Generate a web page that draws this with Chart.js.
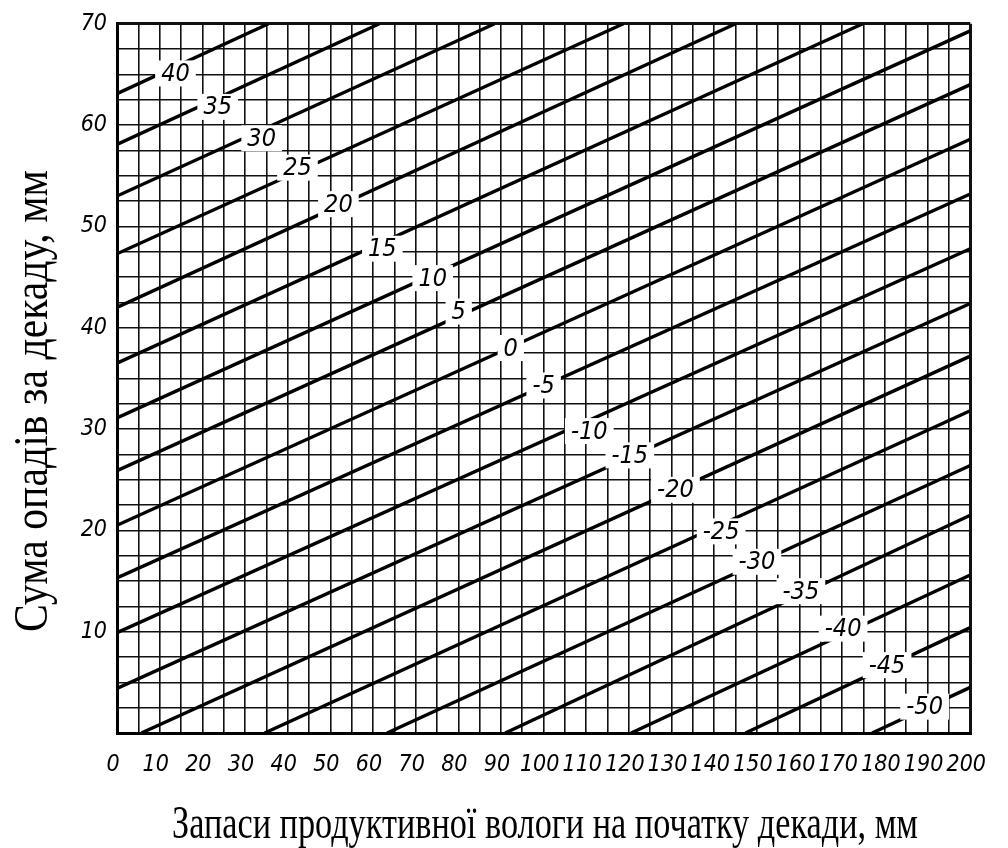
<!DOCTYPE html>
<html>
<head>
<meta charset="utf-8">
<script src="https://cdn.jsdelivr.net/npm/chart.js@4.4.1/dist/chart.umd.min.js"></script>
<style>
  html, body { margin: 0; padding: 0; background: #fff; }
  #wrap { width: 1008px; height: 848px; position: relative; }
</style>
</head>
<body>
<div id="wrap"><canvas id="c" width="1008" height="848"></canvas></div>
<script>
// ---- data ----
const lineLabels = ['40','35','30','25','20','15','10','5','0','-5','-10','-15','-20','-25','-30','-35','-40','-45','-50'];
const startX = [0, 0, 0, 0, 0, 0, 0, 0, 0, 0, 0, 0, 5.7, 34.6, 63.3, 91, 120.5, 147.3, 177];
const startY = [63.1, 58.1, 53.0, 47.3, 42.0, 36.5, 31.1, 25.9, 20.5, 15.3, 9.9, 4.4, 0, 0, 0, 0, 0, 0, 0];
const endX   = [35.5, 61.5, 88.5, 118.7, 145, 174.8, 200, 200, 200, 200, 200, 200, 200, 200, 200, 200, 200, 200, 200];
const endY   = [70, 70, 70, 70, 70, 70, 69.3, 64.0, 58.6, 53.2, 47.8, 42.4, 37.2, 31.8, 26.4, 21.5, 15.6, 10.4, 4.5];
const labelX = [13.7, 23.6, 33.9, 42.3, 51.9, 62.2, 74.0, 80.1, 92.3, 100.0, 110.7, 120.2, 130.9, 141.6, 150.0, 160.3, 170.2, 180.5, 189.3];
const labelY = [65.1, 61.8, 58.7, 55.8, 52.2, 47.8, 44.9, 41.6, 38.0, 34.3, 29.8, 27.4, 24.0, 19.9, 16.9, 14.0, 10.3, 6.7, 2.6];
const xTickLabels = ['0','10','20','30','40','50','60','70','80','90','100','110','120','130','140','150','160','170','180','190','200'];
const yTickLabels = ['','10','20','30','40','50','60','70'];
const xTitle = 'Запаси продуктивної вологи на початку декади, мм';
const yTitle = 'Сума опадів за декаду, мм';

const NARROW = "'Liberation Sans Narrow', 'DejaVu Sans Condensed', 'Arial Narrow', sans-serif";
const SERIF = "'Liberation Serif', 'Times New Roman', 'DejaVu Serif', serif";

const datasets = lineLabels.map((lab, i) => ({
  label: lab,
  data: [{x: startX[i], y: startY[i]}, {x: endX[i], y: endY[i]}],
  borderColor: '#000',
  borderWidth: 3.4,
  pointRadius: 0,
  fill: false,
  tension: 0
}));

const lineLabelPlugin = {
  id: 'lineLabels',
  afterDatasetsDraw(chart) {
    const ctx = chart.ctx;
    const xs = chart.scales.x, ys = chart.scales.y;
    ctx.save();
    ctx.font = 'italic 25px ' + NARROW;
    ctx.textAlign = 'center';
    ctx.textBaseline = 'middle';
    lineLabels.forEach((lab, i) => {
      const px = xs.getPixelForValue(labelX[i]);
      const py = ys.getPixelForValue(labelY[i]);
      const w = ctx.measureText(lab).width;
      ctx.fillStyle = '#fff';
      ctx.fillRect(px - w / 2 - 6, py - 13, w + 12, 26);
      ctx.fillStyle = '#000';
      ctx.fillText(lab, px, py + 1);
    });
    ctx.restore();
  }
};

const titlePlugin = {
  id: 'condensedTitles',
  afterDraw(chart) {
    const ctx = chart.ctx;
    ctx.save();
    ctx.fillStyle = '#000';
    ctx.textBaseline = 'alphabetic';
    ctx.textAlign = 'left';
    // x axis title
    ctx.font = '47px ' + SERIF;
    let w = ctx.measureText(xTitle).width;
    let left = 172, right = 918, base = 838;
    ctx.translate(left, base);
    ctx.scale((right - left) / w, 1);
    ctx.fillText(xTitle, 0, 0);
    ctx.restore();
    // y axis title (rotated)
    ctx.save();
    ctx.fillStyle = '#000';
    ctx.textBaseline = 'alphabetic';
    ctx.textAlign = 'left';
    ctx.font = '49px ' + SERIF;
    w = ctx.measureText(yTitle).width;
    const bottom = 632, top = 170, bx = 47;
    ctx.translate(bx, bottom);
    ctx.rotate(-Math.PI / 2);
    ctx.scale((bottom - top) / w, 1);
    ctx.fillText(yTitle, 0, 0);
    ctx.restore();
  }
};

new Chart(document.getElementById('c'), {
  type: 'line',
  data: { datasets },
  options: {
    responsive: false,
    animation: false,
    devicePixelRatio: 1,
    layout: { padding: { top: 18, right: 18, left: 0, bottom: 0 } },
    plugins: { legend: { display: false }, tooltip: { enabled: false }, title: { display: false } },
    scales: {
      x: {
        type: 'linear',
        min: 0, max: 200,
        afterFit(scale) { scale.height = 115; },
        border: { display: true, color: '#000', width: 3 },
        grid: {
          color: '#111',
          lineWidth: (c) => (c.tick && (c.tick.value === 0 || c.tick.value === 200)) ? 3 : 1.6,
          drawTicks: false
        },
        ticks: {
          stepSize: 5,
          maxTicksLimit: 100,
          autoSkip: false,
          maxRotation: 0, minRotation: 0,
          padding: 18,
          labelOffset: -4,
          color: '#000',
          font: { family: NARROW, size: 23, style: 'italic' },
          callback: (v) => (v % 10 === 0) ? xTickLabels[v / 10] : ''
        }
      },
      y: {
        type: 'linear',
        min: 0, max: 70,
        afterFit(scale) { scale.width = 117; },
        border: { display: true, color: '#000', width: 3 },
        grid: {
          color: '#111',
          lineWidth: (c) => (c.tick && (c.tick.value === 0 || c.tick.value === 70)) ? 3 : 1.6,
          drawTicks: false
        },
        ticks: {
          stepSize: 2.5,
          maxTicksLimit: 100,
          autoSkip: false,
          padding: 10,
          color: '#000',
          font: { family: NARROW, size: 23, style: 'italic' },
          callback: (v) => (v % 10 === 0) ? yTickLabels[v / 10] : ''
        }
      }
    }
  },
  plugins: [lineLabelPlugin, titlePlugin]
});
</script>
</body>
</html>
